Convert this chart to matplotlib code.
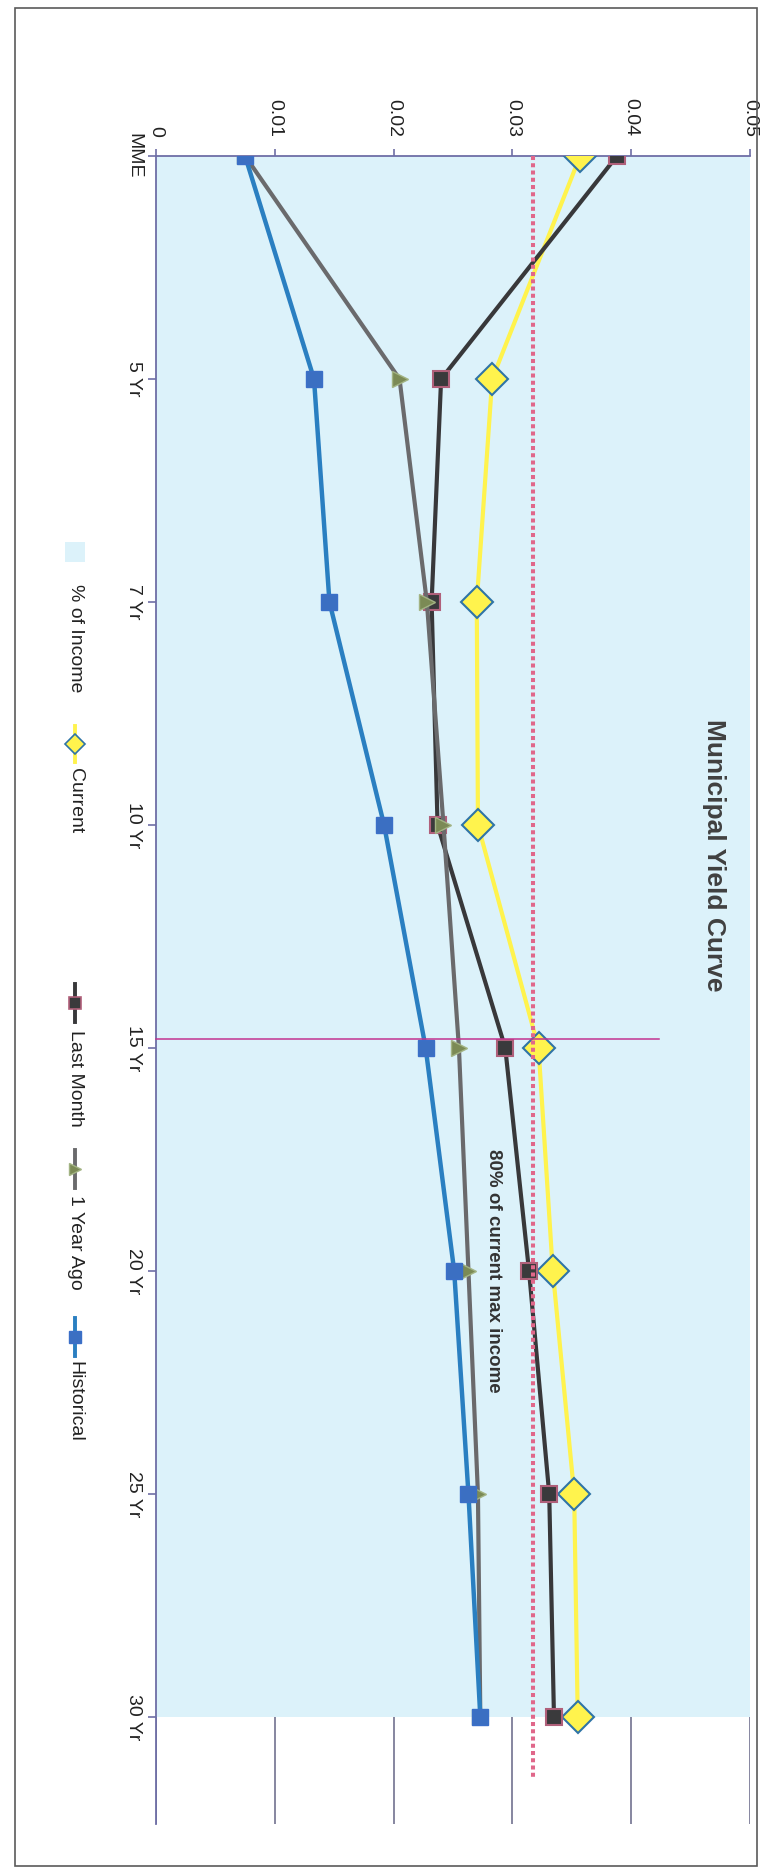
import matplotlib
matplotlib.use("Agg")
import matplotlib.pyplot as plt
from matplotlib.lines import Line2D
from matplotlib.patches import Rectangle

plt.rcParams['font.family'] = ['Liberation Sans', 'DejaVu Sans']

# ---------------- data ----------------
categories = ["MME", "5 Yr", "7 Yr", "10 Yr", "15 Yr", "20 Yr", "25 Yr", "30 Yr"]
pct_income = [0.05, 0.05, 0.05, 0.05, 0.05, 0.05, 0.05, 0.05]
current = [0.0357, 0.0283, 0.0270, 0.0271, 0.0322, 0.0334, 0.0352, 0.0355]
last_month = [0.0388, 0.0240, 0.0232, 0.0237, 0.0294, 0.0314, 0.0331, 0.0335]
one_year_ago = [0.0075, 0.0205, 0.0228, 0.0242, 0.0255, 0.0263, 0.0271, 0.0273]
historical = [0.0075, 0.0133, 0.0146, 0.0192, 0.0227, 0.0251, 0.0263, 0.0273]
value_ticks = [0, 0.01, 0.02, 0.03, 0.04, 0.05]
value_tick_labels = ["0", "0.01", "0.02", "0.03", "0.04", "0.05"]
threshold_80pct = 0.0317          # "80% of current max income"
marker_line_value = 0.0423        # extent of the magenta marker line at 15 Yr
title = "Municipal Yield Curve"
annotation = "80% of current max income"
legend_labels = ["% of Income", "Current", "Last Month", "1 Year Ago", "Historical"]

# ---------------- figure ----------------
W, H = 767, 1869
fig = plt.figure(figsize=(W / 100, H / 100), dpi=100)

def fx(x):
    return x / W

def fy(y):
    return 1 - y / H

ax_left, ax_right, ax_top, ax_bottom = 156, 750, 156, 1824
ax = fig.add_axes([fx(ax_left), fy(ax_bottom), (ax_right - ax_left) / W, (ax_bottom - ax_top) / H])
ax.set_facecolor('white')

idx = list(range(len(categories)))
ax.set_xlim(0, 0.05)
ax.set_ylim(7.48, 0)

axis_col = '#6e6ea6'
grid_col = '#7d7d98'
area_col = '#dcf2fa'

# gridlines (below area)
ax.set_axisbelow(True)
ax.grid(axis='x', color=grid_col, lw=1.3)
ax.grid(axis='y', visible=False)

# % of Income area
ax.fill_betweenx(idx, 0, pct_income, color=area_col, lw=0, zorder=1)

# series
ax.plot(current, idx, color='#fff34d', lw=3.0, marker='D', ms=16, mfc='#fff34d',
        mec='#2f74a6', mew=1.5, zorder=3)
ax.plot(last_month, idx, color='#38383a', lw=3.0, marker='s', ms=12, mfc='#3a3a3c',
        mec='#b0607a', mew=1.5, zorder=4)
ax.plot(one_year_ago, idx, color='#6a6a6c', lw=3.0, marker='>', ms=11, mfc='#7b8a55',
        mec='#a2b383', mew=1.0, zorder=5)
ax.plot(historical, idx, color='#2a7fc1', lw=3.2, marker='s', ms=12, mfc='#3b6fc2',
        mec='#3b6fc8', mew=1.0, zorder=6)

# 80% threshold dotted line
ax.plot([threshold_80pct, threshold_80pct], [0, 7.28], color='#e0678a', lw=2.9,
        ls=(0, (1, 0.8)), dash_capstyle='butt', zorder=8)
# magenta marker line at 15 Yr
ax.plot([0, marker_line_value], [3.96, 3.96], color='#c2338f', lw=1.1, zorder=8,
        clip_on=False)

ax.text(0.0284, 5.0, annotation, rotation=-90, ha='center', va='center',
        fontsize=13.5, fontweight='bold', color='#333333', zorder=9)

# axes styling
for s in ['right', 'bottom']:
    ax.spines[s].set_visible(False)
for s in ['top', 'left']:
    ax.spines[s].set_color(axis_col)
    ax.spines[s].set_linewidth(1.3)

ax.xaxis.tick_top()
ax.set_xticks(value_ticks)
ax.set_xticklabels(value_tick_labels, rotation=-90, fontsize=14, color='#222222')
ax.tick_params(axis='x', which='both', length=5, color=axis_col, pad=9, width=1.2)
for t in ax.get_xticklabels():
    t.set_va('bottom')
    t.set_ha('center')

ax.set_yticks(idx)
ax.set_yticklabels(categories, rotation=-90, fontsize=14, color='#222222')
ax.tick_params(axis='y', which='both', length=6, color=axis_col, pad=4, width=1.2)
for t in ax.get_yticklabels():
    t.set_ha('right')
    t.set_va('center')

# title
fig.text(fx(714), fy(855), title, rotation=-90, ha='center', va='center',
         fontsize=19, fontweight='bold', color='#404040')

# legend (rotated, drawn manually)
lx = 75
fig.add_artist(Rectangle((fx(lx - 10), fy(562)), 20 / W, 20 / H, transform=fig.transFigure,
                         facecolor=area_col, edgecolor='none'))
legend_styles = [
    dict(color='#fff34d', marker='D', ms=10, mfc='#fff34d', mec='#2f74a6', mew=1.2),
    dict(color='#38383a', marker='s', ms=8, mfc='#3a3a3c', mec='#b0607a', mew=1.2),
    dict(color='#6a6a6c', marker='>', ms=8, mfc='#7b8a55', mec='#a2b383', mew=1.0),
    dict(color='#2a7fc1', marker='s', ms=8, mfc='#3b6fc2', mec='#3b6fc8', mew=1.0),
]
handle_spans = [(726, 762), (984, 1022), (1150, 1188), (1318, 1356)]
text_tops = [584, 768, 1030, 1195, 1361]
for (y1, y2), st in zip(handle_spans, legend_styles):
    fig.add_artist(Line2D([fx(lx), fx(lx)], [fy(y1), fy(y2)], transform=fig.transFigure,
                          lw=2.8, color=st['color']))
    fig.add_artist(Line2D([fx(lx)], [fy((y1 + y2) / 2)], transform=fig.transFigure,
                          ls='none', marker=st['marker'], ms=st['ms'], mfc=st['mfc'],
                          mec=st['mec'], mew=st['mew']))
for lab, yt in zip(legend_labels, text_tops):
    fig.text(fx(lx), fy(yt), lab, rotation=-90, ha='center', va='top', fontsize=14,
             color='#222222')

# outer chart border
fig.add_artist(Rectangle((fx(15), fy(1866)), (757 - 15) / W, (1866 - 8) / H,
                         transform=fig.transFigure, facecolor='none',
                         edgecolor='#5a5a5a', lw=1.2))

fig.savefig('out.png', dpi=100)
